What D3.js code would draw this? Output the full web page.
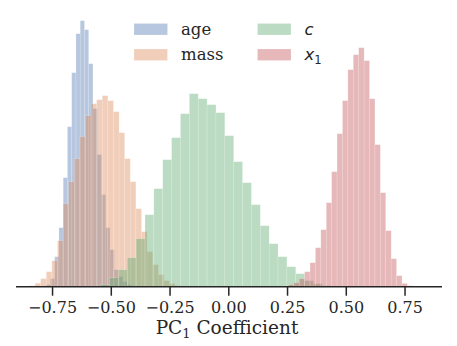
<!DOCTYPE html>
<html>
<head>
<meta charset="utf-8">
<script src="https://cdn.jsdelivr.net/npm/d3@7"></script>
<style>
  body { margin: 0; background: #fff; }
  svg { display: block; }
  .tick text { font-family: "DejaVu Serif", serif; }
</style>
</head>
<body>
<svg width="457" height="346"></svg>
<script>
// histogram bins: first bin edge, bin width, counts
var ageStart = -0.7749, ageWidth = 0.01809;
var ageCounts = [2, 8, 30, 59, 109, 160, 214, 253, 266, 257, 223, 178, 132, 92, 59, 37, 17, 10, 5, 2, 1];

var massStart = -0.846, massWidth = 0.02383;
var massCounts = [1, 3.5, 8, 15, 26, 46, 83, 105, 128, 150, 171, 183, 187, 191, 186, 175, 154, 128, 105, 78, 55, 35, 22, 12, 6, 3, 1];

var cStart = -0.5809, cWidth = 0.03774;
var cCounts = [0.5, 2, 9, 17, 29, 48, 72, 98, 127, 149, 173, 193, 188, 182, 174, 151, 125, 104, 82, 61, 43, 30, 20, 13, 6, 3, 1];

var x1Start = 0.2557, x1Width = 0.02302;
var x1Counts = [2, 4, 8, 15, 24, 39, 57, 84, 115, 153, 186, 217, 232, 239, 226, 188, 142, 94, 56, 28, 11, 3.3, 1];

var xTicks = [-0.75, -0.5, -0.25, 0, 0.25, 0.5, 0.75];

var series = [
  { name: "age",  start: ageStart,  width: ageWidth,  counts: ageCounts,  color: "#4C72B0" },
  { name: "mass", start: massStart, width: massWidth, counts: massCounts, color: "#DD8452" },
  { name: "c",    start: cStart,    width: cWidth,    counts: cCounts,    color: "#55A868" },
  { name: "x1",   start: x1Start,   width: x1Width,   counts: x1Counts,   color: "#C44E52" }
];

var svg = d3.select("svg");
var base = 286.7;

var x = d3.scaleLinear().domain([-0.9034, 0.9094]).range([16, 442]);
var maxCount = d3.max(series, function(s) { return d3.max(s.counts); });
var y = d3.scaleLinear().domain([0, maxCount * 1.05]).range([base, 7.4]);

series.forEach(function(s) {
  var bins = s.counts.map(function(c, i) {
    return { x0: s.start + i * s.width, x1: s.start + (i + 1) * s.width, n: c };
  });
  svg.append("g")
    .selectAll("rect")
    .data(bins)
    .enter()
    .append("rect")
    .attr("x", function(d) { return x(d.x0); })
    .attr("width", function(d) { return x(d.x1) - x(d.x0); })
    .attr("y", function(d) { return y(d.n); })
    .attr("height", function(d) { return base - y(d.n); })
    .attr("fill", s.color)
    .attr("fill-opacity", 0.4)
    .attr("stroke", "#fff")
    .attr("stroke-opacity", 0.35)
    .attr("stroke-width", 0.5);
});

// x axis
var axis = d3.axisBottom(x)
  .tickValues(xTicks)
  .tickSize(9)
  .tickPadding(6)
  .tickFormat(function(d) { return d3.format(".2f")(d).replace("-", "\u2212"); });

var gx = svg.append("g")
  .attr("transform", "translate(0," + base + ")")
  .call(axis);
gx.select(".domain").attr("stroke", "#262626").attr("stroke-width", 1.6)
  .attr("d", "M16,0H442");
gx.selectAll(".tick line").attr("stroke", "#262626").attr("stroke-width", 1.5);
gx.selectAll(".tick text").attr("fill", "#262626").style("font-size", "16px");

var xlabel = svg.append("text")
  .attr("x", 227)
  .attr("y", 334)
  .attr("text-anchor", "middle")
  .attr("fill", "#262626")
  .style("font-family", "DejaVu Serif, serif")
  .style("font-size", "18.5px");
xlabel.append("tspan").text("PC");
xlabel.append("tspan").attr("dy", 4).style("font-size", "13px").text("1");
xlabel.append("tspan").attr("dy", -4).text(" Coefficient");

// legend
var legendPos = [[134, 23.5], [134, 49], [257.5, 23.5], [257.5, 49]];
series.forEach(function(s, i) {
  var p = legendPos[i];
  var g = svg.append("g").attr("transform", "translate(" + p[0] + "," + p[1] + ")");
  g.append("rect")
    .attr("width", 33.5)
    .attr("height", 11.5)
    .attr("fill", s.color)
    .attr("fill-opacity", 0.4)
    .attr("stroke", "#fff")
    .attr("stroke-opacity", 0.35)
    .attr("stroke-width", 0.5);
  var t = g.append("text")
    .attr("x", 47)
    .attr("y", 11)
    .attr("fill", "#262626")
    .style("font-size", "16.5px");
  if (s.name === "c") {
    t.style("font-family", "DejaVu Sans, sans-serif").style("font-style", "italic").text("c");
  } else if (s.name === "x1") {
    t.style("font-family", "DejaVu Sans, sans-serif");
    t.append("tspan").style("font-style", "italic").text("x");
    t.append("tspan").attr("dy", 3.5).style("font-size", "11.5px").text("1");
  } else {
    t.style("font-family", "DejaVu Serif, serif").text(s.name);
  }
});
</script>
</body>
</html>
